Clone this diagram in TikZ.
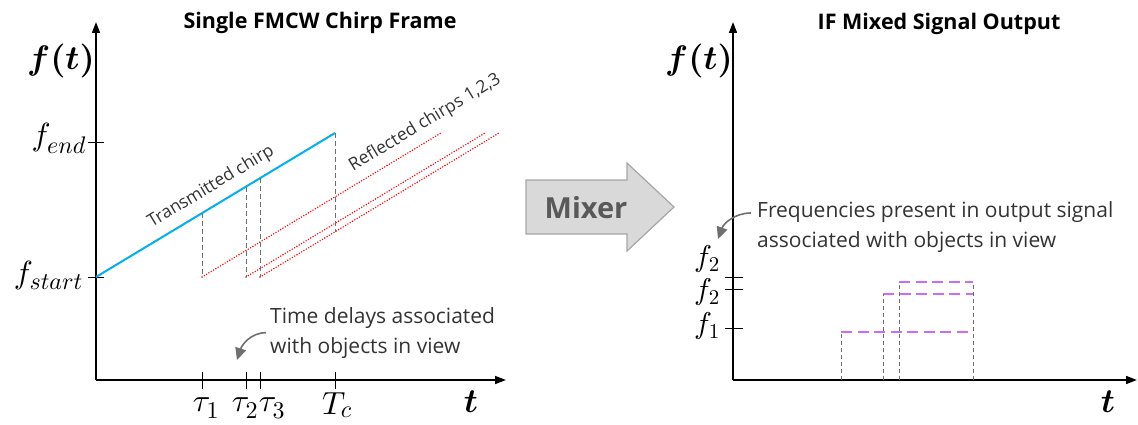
\documentclass[tikz,border=0pt]{standalone}
\usepackage{amsmath,amssymb,bm}
\usepackage[no-math]{fontspec}
\setmainfont{Open Sans}
\DeclareFontShape{OML}{cmm}{m}{it}{<->cmmi10}{}
\DeclareFontShape{OML}{cmm}{b}{it}{<->cmmib10}{}
\DeclareFontShape{OT1}{cmr}{m}{n}{<->cmr10}{}
\DeclareFontShape{OT1}{cmr}{bx}{n}{<->cmbx10}{}
\DeclareMathSizes{30}{30}{21}{15}
\DeclareMathSizes{32}{32}{24}{18}
\DeclareMathSizes{34}{34}{24}{18}
\usepackage{tikz}
\usetikzlibrary{arrows.meta,positioning}
\definecolor{chirpblue}{HTML}{00B0F0}
\definecolor{echored}{HTML}{FF0000}
\definecolor{beatviolet}{HTML}{CC6CF5}
\definecolor{guidegray}{HTML}{6F6F6F}
\definecolor{mixfill}{HTML}{D9D9D9}
\definecolor{mixedge}{HTML}{A6A6A6}
\definecolor{mixtext}{HTML}{595959}
\newcommand{\notefont}{\fontsize{21}{30}\selectfont}
\newcommand{\headfont}{\fontsize{21.5}{24}\selectfont\bfseries}
\newcommand{\slopefont}{\fontsize{17.5}{20}\selectfont}

\begin{document}
\begin{tikzpicture}[x=1pt,y=-1pt,
  axisline/.style={line width=1.6pt,-{Triangle[length=11pt,width=8pt]}},
  tickmark/.style={line width=0.9pt},
  guide/.style={draw=guidegray,line width=1pt,dash pattern=on 5pt off 3pt},
  thinguide/.style={draw=guidegray,line width=0.8pt,dash pattern=on 4pt off 3pt},
  chirp/.style={draw=chirpblue,line width=2pt},
  echo/.style={draw=echored,line width=1.6pt,line cap=round,dash pattern=on 0pt off 2.7pt},
  beat/.style={draw=beatviolet,line width=1.8pt,dash pattern=on 11pt off 5.5pt},
  note/.style={font=\notefont,align=left,text=black!80,inner sep=0pt},
  heading/.style={font=\headfont,inner sep=0pt},
  slopelbl/.style={sloped,inner sep=0pt,font=\slopefont,text=black!80},
  mathlbl/.style={font=\fontsize{30}{32}\selectfont,inner sep=0pt},
  axismath/.style={font=\fontsize{32}{34}\selectfont,inner sep=0pt},
  bigmath/.style={font=\fontsize{34}{36}\selectfont,inner sep=0pt},
  pointer/.style={-{Triangle[length=12pt,width=11pt]},line width=1.6pt,draw=guidegray}]
\useasboundingbox (0,0) rectangle (1138,425);

% left chart: one chirp frame
\coordinate (lo) at (96,380);
\coordinate (ltop) at (96,22);
\coordinate (lright) at (506,380);
\draw[axisline] (lo) -- (ltop);
\draw[axisline] (lo) -- (lright);
\node[heading] (ltitle) at (320,23) {Single FMCW Chirp Frame};
\node[bigmath] (lft) at (61,61) {$\boldsymbol{f(t)}$};
\node[bigmath] (lt) at (471,402) {$\boldsymbol{t}$};

\draw[tickmark] (88,142) -- (104,142);
\draw[tickmark] (88,277) -- (104,277);
\node[axismath,anchor=east] (fend) at (86,138) {$f_{end}$};
\node[axismath,anchor=east] (fstart) at (83,275) {$f_{start}$};

\coordinate (txstart) at (96,277);
\coordinate (txend) at (335,133);
\draw[chirp] (txstart) -- node[slopelbl,pos=0.52,above=8pt] (txlabel) {Transmitted chirp} (txend);

\foreach \n/\t in {1/202,2/246,3/260} {
  \coordinate (rx\n) at (\t,277);
  \coordinate (ry\n) at (\t+239,133);
  \draw[echo] (rx\n) -- (ry\n);
}
\path (rx1) -- node[slopelbl,pos=0.97,above=8pt] (rxlabel) {Reflected chirps 1,2,3} (ry1);

% delay guides
\draw[guide] (202,213) -- (202,277);
\draw[guide] (246,187) -- (246,277);
\draw[guide] (260,178) -- (260,277);
\draw[guide] (335,133) -- (335,232);

\foreach \x in {202,246,260,335} \draw[tickmark] (\x,372) -- (\x,389);
\node[axismath] (tau1) at (206,408) {$\tau_1$};
\node[axismath] (tau2) at (245,408) {$\tau_2$};
\node[axismath] (tau3) at (272,408) {$\tau_3$};
\node[axismath] (tc) at (337,405) {$T_c$};

\node[note,anchor=north west] (delays) at (270,307) {Time delays associated\\with objects in view};
\coordinate (delaytip) at (237,360);
\draw[pointer] ([xshift=-4pt]delays.west) to[out=180,in=72] (delaytip);

% mixer
\draw[draw=mixedge,fill=mixfill,line width=1.2pt] (526,180) -- (627,180) -- (627,163) -- (674,207) -- (627,251) -- (627,234) -- (526,234) -- cycle;
\node[font=\fontsize{29}{32}\selectfont\bfseries,text=mixtext] (mixer) at (586,208) {Mixer};

% right chart: IF output
\coordinate (ro) at (733,380);
\coordinate (rtop) at (733,22);
\coordinate (rright) at (1137,380);
\draw[axisline] (ro) -- (rtop);
\draw[axisline] (ro) -- (rright);
\node[heading] (rtitle) at (939,24) {IF Mixed Signal Output};
\node[bigmath] (rft) at (699,61) {$\boldsymbol{f(t)}$};
\node[bigmath] (rt) at (1108,402) {$\boldsymbol{t}$};

\foreach \y in {277,289,328} \draw[tickmark] (725,\y) -- (743,\y);
\node[mathlbl] (fthree) at (707,259) {$f_2$};
\node[mathlbl] (ftwo) at (707,292) {$f_2$};
\node[mathlbl] (fone) at (707,326) {$f_1$};

\foreach \s/\y in {841/332,883/294,899/282} \draw[beat] (\s,\y) -- (973,\y);
\foreach \s/\y in {841/332,883/294,899/282,973/282} \draw[thinguide] (\s,380) -- (\s,\y);

\node[note,anchor=north west] (freqs) at (757,201) {Frequencies present in output signal\\associated with objects in view};
\coordinate (freqtip) at (718,239);
\draw[pointer] ([xshift=-6pt,yshift=-12pt]freqs.north west) to[out=180,in=70] (freqtip);
\end{tikzpicture}
\end{document}
